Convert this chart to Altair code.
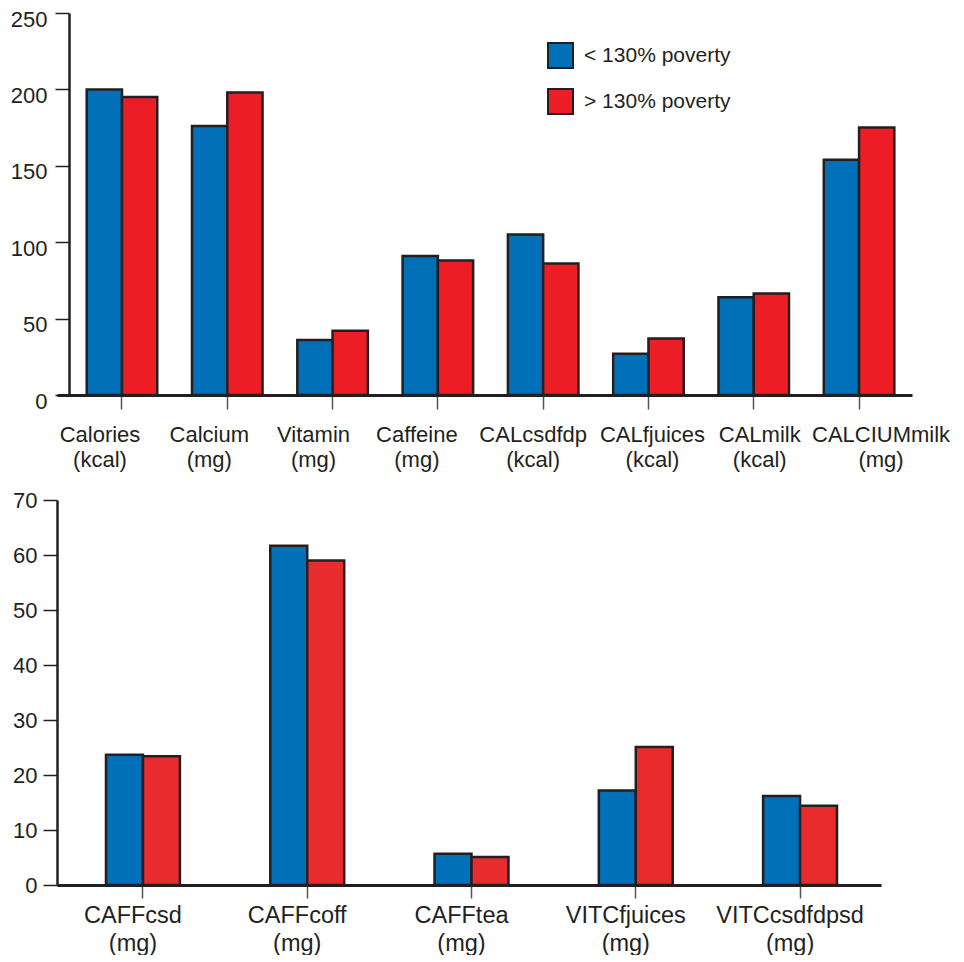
import altair as alt
import pandas as pd

# ---------------- data ----------------
groups = ["< 130% poverty", "> 130% poverty"]

top_names = ["Calories", "Calcium", "Vitamin", "Caffeine", "CALcsdfdp",
             "CALfjuices", "CALmilk", "CALCIUMmilk"]
top_units = ["(kcal)", "(mg)", "(mg)", "(mg)", "(kcal)", "(kcal)", "(kcal)", "(mg)"]
top_below = [200, 176, 36, 91, 105, 27, 64, 154]
top_above = [195, 198, 42, 88, 86, 37, 66.5, 175]
top_ticks = [0, 50, 100, 150, 200, 250]

bottom_names = ["CAFFcsd", "CAFFcoff", "CAFFtea", "VITCfjuices", "VITCcsdfdpsd"]
bottom_units = ["(mg)", "(mg)", "(mg)", "(mg)", "(mg)"]
bottom_below = [23.7, 61.7, 5.7, 17.2, 16.2]
bottom_above = [23.4, 59.0, 5.1, 25.1, 14.4]
bottom_ticks = [0, 10, 20, 30, 40, 50, 60, 70]

# ---------------- styles ----------------
FONT = "Liberation Sans, Arial, Helvetica, sans-serif"
INK = "#231f20"
BLUE = "#0070b9"
RED_TOP = "#ec1d25"
RED_BOTTOM = "#e82c2e"
TICK_GREY = "#555555"

top_labels = [f"{n} {u}" for n, u in zip(top_names, top_units)]
bottom_labels = [f"{n} {u}" for n, u in zip(bottom_names, bottom_units)]

top_df = pd.DataFrame({
    "item": top_labels * 2,
    "group": [groups[0]] * len(top_labels) + [groups[1]] * len(top_labels),
    "value": top_below + top_above,
})
bottom_df = pd.DataFrame({
    "item": bottom_labels * 2,
    "group": [groups[0]] * len(bottom_labels) + [groups[1]] * len(bottom_labels),
    "value": bottom_below + bottom_above,
})

# label shifts (style only) for the top x axis, as in the original layout
top_shift = [-22, -18, -19, -21, -10, 4, 6, 22]
top_label_offset = {
    "condition": [
        {"test": f"datum.value === '{lab}'", "value": s}
        for lab, s in zip(top_labels, top_shift)
    ],
    "value": 0,
}

top = alt.Chart(top_df).mark_bar(stroke=INK, strokeWidth=2.5).encode(
    x=alt.X(
        "item:N", sort=top_labels,
        scale=alt.Scale(paddingInner=0.33, paddingOuter=0.225, align=0.627),
        axis=alt.Axis(
            title=None, labelAngle=0, labelExpr="split(datum.label, ' ')",
            labelFont=FONT, labelFontSize=22, labelColor=INK,
            labelLineHeight=25, labelBaseline="top", labelPadding=15,
            labelOffset=top_label_offset, labelOverlap=False, labelLimit=300,
            tickSize=14, tickColor=TICK_GREY, tickWidth=1.5,
            domainColor=INK, domainWidth=3, grid=False,
        ),
    ),
    xOffset=alt.XOffset("group:N", sort=groups,
                        scale=alt.Scale(paddingInner=0, paddingOuter=0)),
    y=alt.Y(
        "value:Q", scale=alt.Scale(domain=[0, 250], nice=False),
        axis=alt.Axis(
            title=None, values=top_ticks, labelFont=FONT, labelFontSize=22,
            labelColor=INK, labelPadding=8, labelOffset=6, offset=-12,
            tickSize=14, tickColor=INK, tickWidth=1.5,
            domainColor=INK, domainWidth=2.5, grid=False,
        ),
    ),
    color=alt.Color(
        "group:N", sort=groups,
        scale=alt.Scale(domain=groups, range=[BLUE, RED_TOP]),
        legend=alt.Legend(
            title=None, orient="none", legendX=490, legendY=29,
            direction="vertical", symbolType="square", symbolSize=625,
            symbolStrokeColor=INK, symbolStrokeWidth=2, symbolOpacity=1,
            labelFont=FONT, labelFontSize=21, labelColor=INK,
            labelOffset=10, rowPadding=13, padding=0,
        ),
    ),
).properties(width=855, height=382)

bottom = alt.Chart(bottom_df).mark_bar(stroke=INK, strokeWidth=2.5).encode(
    x=alt.X(
        "item:N", sort=bottom_labels,
        scale=alt.Scale(paddingInner=0.55, paddingOuter=0.283, align=0.527),
        axis=alt.Axis(
            title=None, labelAngle=0, labelExpr="split(datum.label, ' ')",
            labelFont=FONT, labelFontSize=23.5, labelColor=INK,
            labelLineHeight=28, labelBaseline="top", labelPadding=5,
            labelOffset=-10, labelOverlap=False, labelLimit=300,
            tickSize=13, tickColor=TICK_GREY, tickWidth=1.5,
            domainColor=INK, domainWidth=3, grid=False,
        ),
    ),
    xOffset=alt.XOffset("group:N", sort=groups,
                        scale=alt.Scale(paddingInner=0, paddingOuter=0)),
    y=alt.Y(
        "value:Q", scale=alt.Scale(domain=[0, 70], nice=False),
        axis=alt.Axis(
            title=None, values=bottom_ticks, labelFont=FONT, labelFontSize=22,
            labelColor=INK, labelPadding=6, labelOffset=0,
            tickSize=14, tickColor=INK, tickWidth=1.5,
            domainColor=INK, domainWidth=2.5, grid=False,
        ),
    ),
    color=alt.Color(
        "group:N", sort=groups,
        scale=alt.Scale(domain=groups, range=[BLUE, RED_BOTTOM]),
        legend=None,
    ),
).properties(width=824, height=385)

chart = alt.ConcatChart(
    concat=[top, bottom], columns=1, spacing=19,
).resolve_scale(
    x="independent", y="independent", color="independent", xOffset="independent"
).properties(
    padding={"left": 2, "top": 0, "right": 0, "bottom": 0},
    background="white",
).configure_view(stroke=None)

chart.save("out.html", embed_options={"renderer": "svg", "actions": False})
